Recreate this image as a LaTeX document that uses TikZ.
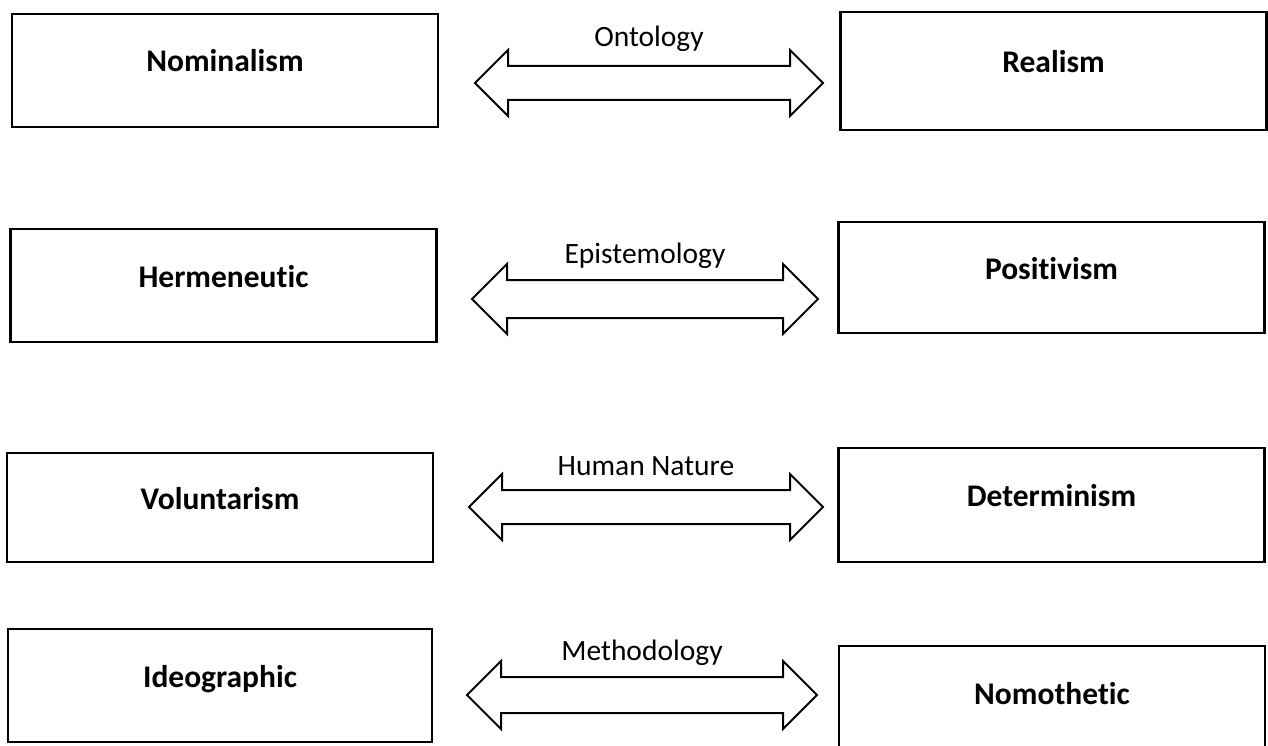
\documentclass[tikz,border=0pt]{standalone}
\usepackage{fontspec}
\setmainfont{Carlito}[Ligatures=NoCommon]
\usetikzlibrary{shapes.arrows,positioning}

\begin{document}
\begin{tikzpicture}[%
    x=1pt, y=-1pt,
    box/.style={draw, rectangle, line width=2.4pt, minimum width=426pt,
      minimum height=113pt, inner sep=0pt, text height=20pt, text depth=17pt,
      font=\fontsize{31.5}{36}\selectfont\bfseries},
    dbl/.style={draw, double arrow, double arrow tip angle=90,
      double arrow head extend=16pt, minimum height=348pt,
      inner xsep=0pt, inner ysep=16pt, text height=0pt, text depth=0pt,
      line width=2pt},
    axis/.style={inner sep=0pt, text height=18pt, text depth=5pt,
      font=\fontsize{29.5}{34}\selectfont}
  ]
    \useasboundingbox (0,0) rectangle (1268,746);

    % left column
    \node[box] (nom) at (225,70.5) {Nominalism};
    \node[box] (her) at (223.5,285.5) {Hermeneutic};
    \node[box, minimum height=109pt] (vol) at (220,507.5) {Voluntarism};
    \node[box, minimum width=424pt] (ide) at (220,685.5) {Ideographic};

    % right column
    \node[box, minimum height=118pt] (rea) at (1053.5,71) {Realism};
    \node[box, minimum height=111pt] (pos) at (1051.5,277.5) {Positivism};
    \node[box, minimum height=114pt] (det) at (1051.5,505) {Determinism};
    \node[box, minimum height=114pt] (nmt) at (1052,703) {Nomothetic};

    % double arrows with their labels
    \node[dbl] (ont) at (649,83) {};
    \node[dbl, inner ysep=18pt, minimum height=346pt] (epi) at (645,299) {};
    \node[dbl, minimum height=354pt] (hum) at (646,507) {};
    \node[dbl, inner ysep=17pt, minimum height=350pt] (met) at (642,695) {};

    \node[axis, above=31pt of ont.center] (ontl) {Ontology};
    \node[axis, above=30pt of epi.center] (epil) {Epistemology};
    \node[axis, above=26pt of hum.center] (huml) {Human Nature};
    \node[axis, above=29pt of met.center] (metl) {Methodology};
\end{tikzpicture}
\end{document}
